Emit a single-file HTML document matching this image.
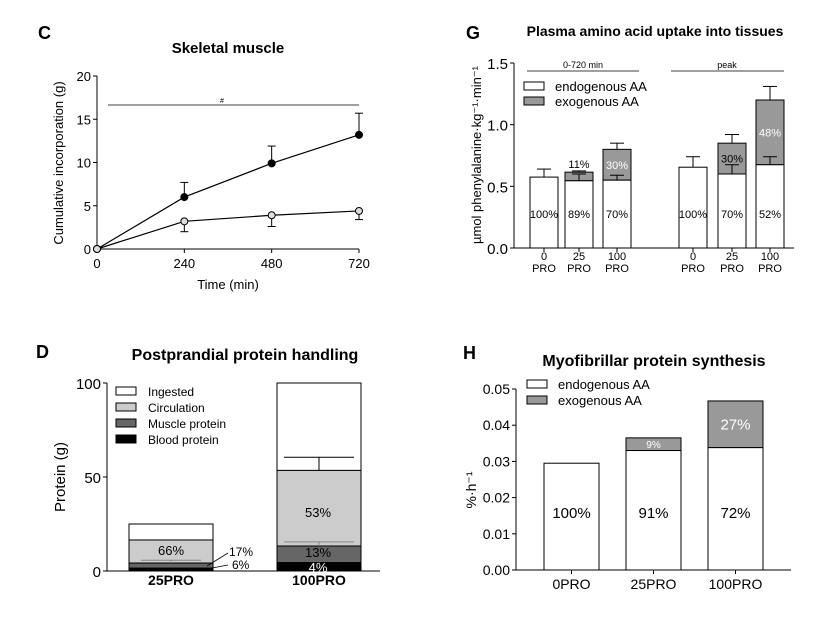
<!DOCTYPE html>
<html><head><meta charset="utf-8"><style>
body{margin:0;background:#fff}
svg{display:block;font-family:"Liberation Sans",Arial,sans-serif}
</style></head><body>
<svg id="s" width="827" height="618" viewBox="0 0 827 618" xmlns="http://www.w3.org/2000/svg">
<g font-weight="bold">
<text x="38" y="39" font-size="18">C</text>
<text x="228" y="53" font-size="15" text-anchor="middle">Skeletal muscle</text>
<text x="466" y="39" font-size="18">G</text>
<text x="655" y="36" font-size="14" text-anchor="middle">Plasma amino acid uptake into tissues</text>
<text x="36" y="358" font-size="18">D</text>
<text x="245" y="360" font-size="16" text-anchor="middle">Postprandial protein handling</text>
<text x="463" y="359" font-size="18">H</text>
<text x="654" y="366" font-size="16" text-anchor="middle">Myofibrillar protein synthesis</text>
</g>
</svg>
<script>
const NS='http://www.w3.org/2000/svg';
const svg=document.getElementById('s');
function mk(tag,a,txt){const e=document.createElementNS(NS,tag);for(const k in a)e.setAttribute(k,a[k]);if(txt!==undefined)e.textContent=txt;svg.appendChild(e);return e;}
function line(x1,y1,x2,y2,c,w){return mk('line',{x1,y1,x2,y2,stroke:c||'#000','stroke-width':w||1});}
function txt(x,y,s,a){const o=Object.assign({x,y,'font-size':12,'text-anchor':'middle'},a||{});return mk('text',o,s);}

// ===== Panel C data =====
const cTimes=[0,240,480,720];
const cHigh=[0,6.0,9.9,13.2];
const cHighErr=[0,1.7,2.0,2.5];
const cLow=[0,3.2,3.9,4.4];
const cLowErr=[0,1.2,1.3,1.0];
const cYTicks=[0,5,10,15,20];
const cx=t=>97+t/720*262, cy=v=>249-v/20*173;
line(97,76,97,249);line(97,249,359,249);
cYTicks.forEach(v=>{line(93,cy(v),97,cy(v));const t=txt(91,cy(v)+5,String(v),{'text-anchor':'end','font-size':13});});
cTimes.forEach(t=>{line(cx(t),249,cx(t),253);const e=txt(cx(t),268,String(t),{'font-size':13});});
let e=txt(228,289,'Time (min)',{'font-size':13});
e=txt(0,0,'Cumulative incorporation (g)',{'font-size':13,transform:'translate(63,163) rotate(-90)'});
line(108,105,359,105,'#000',0.8);e=txt(222,103,'#',{'font-size':7});
function series(vals,errs,up,fill,name){
  const pts=vals.map((v,i)=>cx(cTimes[i])+','+cy(v)).join(' ');
  const pl=mk('polyline',{points:pts,fill:'none',stroke:'#000','stroke-width':1.2});
  vals.forEach((v,i)=>{if(errs[i]>0){const x=cx(cTimes[i]),y2=cy(up?v+errs[i]:v-errs[i]);line(x,cy(v),x,y2);line(x-4,y2,x+4,y2);}});
  vals.forEach((v,i)=>{const c=mk('circle',{cx:cx(cTimes[i]),cy:cy(v),r:3.5,fill:fill,stroke:'#000','stroke-width':1});});
}
series(cHigh,cHighErr,true,'#000','c-100pro');
series(cLow,cLowErr,false,'#ddd','c-25pro');

// ===== Panel G data =====
const gCats=['0','25','100','0','25','100'];
const gEndo=[0.575,0.545,0.55,0.655,0.60,0.675];
const gTotal=[0.575,0.615,0.80,0.655,0.85,1.20];
const gTotalErr=[0.065,0.01,0.05,0.085,0.07,0.11];
const gEndoErr=[0,0.055,0.04,0,0.075,0.065];
const gEndoPct=['100%','89%','70%','100%','70%','52%'];
const gExoPct=['','11%','30%','','30%','48%'];
const gYTicks=[0,0.5,1.0,1.5];
const gYLabels=['0.0','0.5','1.0','1.5'];
const gCenters=[544,579,617,693,732,770];
const gy=v=>248-v/1.5*185;
line(514,63,514,248);line(514,248,794,248);
gYTicks.forEach((v,i)=>{line(510,gy(v),514,gy(v));const t=txt(508,gy(v)+6,gYLabels[i],{'text-anchor':'end','font-size':15});});
e=txt(0,0,'µmol phenylalanine·kg⁻¹·min⁻¹',{'font-size':13,transform:'translate(481,155) rotate(-90)'});
const bw=28;
gCats.forEach((c,i)=>{
  const x=gCenters[i]-bw/2;
  if(gTotal[i]>gEndo[i]){const r=mk('rect',{x,y:gy(gTotal[i]),width:bw,height:gy(gEndo[i])-gy(gTotal[i]),fill:'#999',stroke:'#000','stroke-width':1});}
  const r=mk('rect',{x,y:gy(gEndo[i]),width:bw,height:gy(0)-gy(gEndo[i]),fill:'#fff',stroke:'#000','stroke-width':1});
  const ty=gy(gTotal[i]+gTotalErr[i]);line(gCenters[i],gy(gTotal[i]),gCenters[i],ty);line(gCenters[i]-7,ty,gCenters[i]+7,ty);
  if(gEndoErr[i]>0){const ey=gy(gEndo[i]+gEndoErr[i]);line(gCenters[i],gy(gEndo[i]),gCenters[i],ey);line(gCenters[i]-7,ey,gCenters[i]+7,ey);}
  line(gCenters[i],248,gCenters[i],252);
  let t=txt(gCenters[i],218,gEndoPct[i],{'font-size':11});
  if(gExoPct[i]){const small=(gTotal[i]-gEndo[i])<0.1;t=txt(gCenters[i],small?gy(gTotal[i])-4:(gy(gTotal[i])+gy(gEndo[i]))/2+4,gExoPct[i],{'font-size':11,fill:(i==2||i==5)?'#fff':'#000'});}
  t=txt(gCenters[i],260,c,{'font-size':11});
  t=txt(gCenters[i],272,'PRO',{'font-size':11});
});
line(527,71,639,71,'#000',0.8);line(671,71,784,71,'#000',0.8);
e=txt(583,68,'0-720 min',{'font-size':9});
e=txt(727,68,'peak',{'font-size':9});
[['endogenous AA','#fff',82],['exogenous AA','#999',97]].forEach(([n,f,y])=>{const r=mk('rect',{x:524,y,width:20,height:8,fill:f,stroke:'#000'});const t=txt(555,y+9,n,{'text-anchor':'start','font-size':13});});

// ===== Panel D data =====
const dCats=['25PRO','100PRO'];
const dBlood=[1.5,4.5];
const dMuscle=[4.2,13.3];
const dCirc=[16.5,53.5];
const dIngested=[25,100];
const dCircErr=[0,7];
const dMuscleErr=[1.5,2.2];
const dBloodErr=[0,1.0];
const dYTicks=[0,50,100];
const dX=[129,277];
const dy=v=>571-v/100*188;
line(107,383,107,571);line(107,571,380,571);
dYTicks.forEach(v=>{line(103,dy(v),107,dy(v));const t=txt(101,dy(v)+6,String(v),{'text-anchor':'end','font-size':15});});
e=txt(0,0,'Protein (g)',{'font-size':15,transform:'translate(65,477) rotate(-90)'});
const dw=84;
dCats.forEach((c,i)=>{
  const x=dX[i];
  [[dIngested[i],dCirc[i],'#fff','d-ingested-bar'],[dCirc[i],dMuscle[i],'#ccc','d-circulation-bar'],[dMuscle[i],dBlood[i],'#666','d-muscle-bar'],[dBlood[i],0,'#000','d-blood-bar']].forEach(([t,b,f,n])=>{const r=mk('rect',{x,y:dy(t),width:dw,height:dy(b)-dy(t),fill:f,stroke:'#000','stroke-width':1});});
  const mx=x+dw/2;
  [[dCirc[i],dCircErr[i],'#000'],[dMuscle[i],dMuscleErr[i],'#888'],[dBlood[i],dBloodErr[i],'#666']].forEach(([v,er,col])=>{if(er>0){const ey=dy(v+er);line(mx,dy(v),mx,ey,col);line(mx-(i?35:30),ey,mx+(i?35:30),ey,col);}});
  const t=txt(mx,585,c,{'font-size':14,'font-weight':'bold'});
});
[[171,555,'66%','#000'],[318,517,'53%','#000'],[318,557,'13%','#000'],[318,572,'4%','#fff']].forEach(([x,y,s,f])=>{const t=txt(x,y,s,{'font-size':13,fill:f});});
line(207,566,228,553,'#000',0.8);line(207,569,228,565,'#000',0.8);
e=txt(229,556,'17%',{'font-size':12,'text-anchor':'start'});
e=txt(232,569,'6%',{'font-size':12,'text-anchor':'start'});
[['Ingested','#fff'],['Circulation','#ccc'],['Muscle protein','#666'],['Blood protein','#000']].forEach(([n,f],k)=>{const y=387+k*16;const r=mk('rect',{x:116,y,width:20,height:8,fill:f,stroke:'#000'});const t=txt(148,y+9,n,{'text-anchor':'start','font-size':12});});

// ===== Panel H data =====
const hCats=['0PRO','25PRO','100PRO'];
const hEndo=[0.0295,0.033,0.0338];
const hTotal=[0.0295,0.0365,0.0467];
const hEndoPct=['100%','91%','72%'];
const hExoPct=['','9%','27%'];
const hYTicks=[0,0.01,0.02,0.03,0.04,0.05];
const hYLabels=['0.00','0.01','0.02','0.03','0.04','0.05'];
const hX=[544,626,708];
const hy=v=>570-v/0.05*181;
line(516,389,516,570);line(516,570,791,570);
hYTicks.forEach((v,i)=>{line(512,hy(v),516,hy(v));const t=txt(510,hy(v)+5,hYLabels[i],{'text-anchor':'end','font-size':14});});
e=txt(0,0,'%·h⁻¹',{'font-size':14,transform:'translate(476,490) rotate(-90)'});
const hw=55;
hCats.forEach((c,i)=>{
  const x=hX[i];
  if(hTotal[i]>hEndo[i]){const r=mk('rect',{x,y:hy(hTotal[i]),width:hw,height:hy(hEndo[i])-hy(hTotal[i]),fill:'#999',stroke:'#000','stroke-width':1});
    const t=txt(x+hw/2,(hy(hTotal[i])+hy(hEndo[i]))/2+(i==2?5:4),hExoPct[i],{'font-size':i==2?15:10,fill:'#fff'});}
  const r=mk('rect',{x,y:hy(hEndo[i]),width:hw,height:hy(0)-hy(hEndo[i]),fill:'#fff',stroke:'#000','stroke-width':1});
  let t=txt(x+hw/2,518,hEndoPct[i],{'font-size':15});
  line(x+hw/2,570,x+hw/2,574);
  t=txt(x+hw/2,589,c,{'font-size':14});
});
[['endogenous AA','#fff',380],['exogenous AA','#999',396]].forEach(([n,f,y])=>{const r=mk('rect',{x:527,y,width:20,height:8,fill:f,stroke:'#000'});const t=txt(558,y+9,n,{'text-anchor':'start','font-size':13});});
</script>
</body></html>
